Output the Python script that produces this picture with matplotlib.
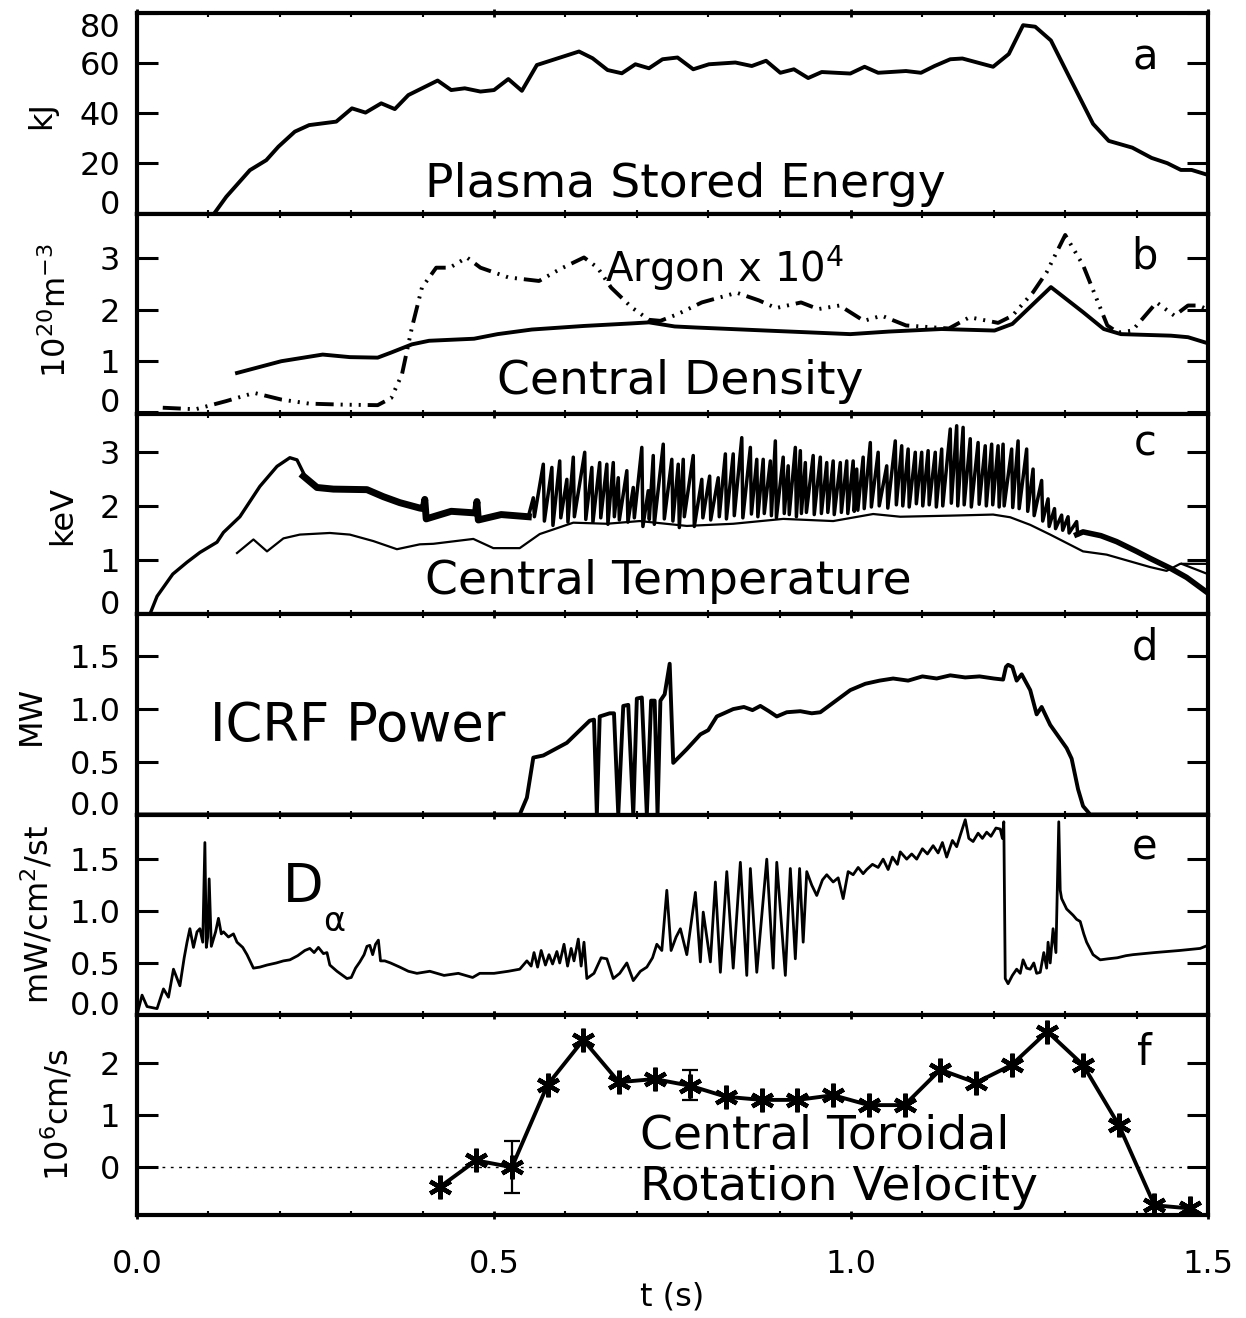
import numpy as np
import matplotlib
matplotlib.use('Agg')
import matplotlib.pyplot as plt
from matplotlib.ticker import MultipleLocator, FormatStrFormatter

plt.rcParams['font.family'] = ['DejaVu Sans']
plt.rcParams['mathtext.default'] = 'regular'
plt.rcParams['lines.scale_dashes'] = False

# (a) plasma stored energy, kJ
t_wp = [0.108, 0.125, 0.158, 0.181, 0.198, 0.221, 0.241, 0.279, 0.301, 0.320,
        0.342, 0.361, 0.380, 0.421, 0.440, 0.459, 0.481, 0.500, 0.520, 0.539,
        0.560, 0.619, 0.638, 0.659, 0.679, 0.698, 0.717, 0.736, 0.757, 0.779,
        0.801, 0.838, 0.861, 0.881, 0.901, 0.920, 0.940, 0.959, 0.999, 1.019,
        1.038, 1.077, 1.098, 1.117, 1.139, 1.156, 1.199, 1.221, 1.241, 1.258,
        1.280, 1.304, 1.339, 1.361, 1.394, 1.421, 1.443, 1.462, 1.477, 1.500]
wp = [0.0, 6.7, 17.3, 21.3, 26.7, 32.7, 35.3, 36.7, 42.0, 40.3,
      44.0, 41.7, 47.3, 53.1, 49.3, 50.0, 48.7, 49.3, 53.7, 49.0,
      59.3, 64.7, 62.0, 57.3, 56.0, 59.6, 58.0, 61.6, 62.3, 57.6,
      59.6, 60.3, 58.9, 61.0, 56.2, 57.6, 54.1, 56.5, 55.9, 58.6,
      56.2, 56.9, 56.2, 58.9, 61.6, 61.9, 58.6, 63.7, 75.2, 74.6,
      69.1, 55.5, 35.8, 29.0, 26.3, 22.2, 20.1, 17.4, 17.4, 15.4]

# (b) central density and argon x 1e4
t_ne = [0.140, 0.202, 0.260, 0.298, 0.337, 0.356, 0.385, 0.409, 0.472, 0.505,
        0.553, 0.626, 0.693, 0.717, 0.753, 0.782, 0.881, 0.999, 1.053, 1.127,
        1.201, 1.226, 1.280, 1.325, 1.354, 1.378, 1.448, 1.472, 1.500]
ne = [0.76, 0.99, 1.12, 1.07, 1.06, 1.16, 1.32, 1.39, 1.43, 1.52,
      1.61, 1.68, 1.73, 1.75, 1.67, 1.65, 1.59, 1.52, 1.57, 1.62,
      1.59, 1.72, 2.44, 1.95, 1.62, 1.52, 1.49, 1.46, 1.34]
t_ar = [0.036, 0.082, 0.125, 0.164, 0.202, 0.241, 0.289, 0.337, 0.356, 0.371,
        0.385, 0.399, 0.419, 0.438, 0.462, 0.481, 0.520, 0.563, 0.592, 0.626,
        0.645, 0.664, 0.693, 0.717, 0.733, 0.757, 0.791, 0.840, 0.871, 0.895,
        0.930, 0.954, 0.984, 1.018, 1.043, 1.077, 1.117, 1.137, 1.166, 1.206,
        1.226, 1.255, 1.274, 1.300, 1.325, 1.359, 1.374, 1.394, 1.428, 1.453,
        1.472, 1.487, 1.500]
ar = [0.08, 0.05, 0.21, 0.37, 0.24, 0.16, 0.14, 0.13, 0.27, 0.73,
      1.65, 2.43, 2.82, 2.82, 3.02, 2.82, 2.63, 2.56, 2.79, 3.02,
      2.82, 2.43, 2.04, 1.80, 1.78, 1.91, 2.14, 2.33, 2.18, 2.03,
      2.14, 2.01, 2.08, 1.78, 1.88, 1.69, 1.65, 1.63, 1.85, 1.74,
      1.88, 2.34, 2.73, 3.46, 2.87, 1.69, 1.55, 1.59, 2.14, 1.88,
      2.08, 2.08, 2.00]

# (c) central temperature, keV
t_te_rise = [0.018, 0.028, 0.050, 0.070, 0.088, 0.112, 0.121, 0.144, 0.172, 0.196,
             0.214, 0.224, 0.233]
te_rise = [0.0, 0.33, 0.74, 0.96, 1.14, 1.33, 1.51, 1.80, 2.36, 2.73,
           2.89, 2.85, 2.61]
t_te_band = [0.233, 0.252, 0.275, 0.322, 0.345, 0.368, 0.396, 0.401, 0.403, 0.405,
             0.440, 0.474, 0.476, 0.478, 0.510, 0.548]
te_band = [2.55, 2.34, 2.31, 2.30, 2.17, 2.06, 1.96, 1.95, 2.12, 1.76,
           1.90, 1.87, 2.08, 1.74, 1.84, 1.80]
saw_t = [0.555, 0.569, 0.581, 0.592, 0.602, 0.611, 0.627, 0.637, 0.648, 0.658,
         0.667, 0.674, 0.686, 0.695, 0.707, 0.716, 0.723, 0.737, 0.749, 0.758,
         0.765, 0.779, 0.791, 0.802, 0.814, 0.824, 0.835, 0.847, 0.859, 0.868,
         0.877, 0.887, 0.894, 0.905, 0.912, 0.922, 0.929, 0.936, 0.947, 0.957,
         0.966, 0.975, 0.985, 0.994, 1.003, 1.008, 1.017, 1.027, 1.038, 1.050,
         1.062, 1.071, 1.080, 1.090, 1.099, 1.108, 1.118, 1.127, 1.139, 1.148,
         1.157, 1.167, 1.178, 1.188, 1.197, 1.206, 1.213, 1.225, 1.234, 1.246,
         1.255, 1.267, 1.276, 1.285, 1.295, 1.304, 1.316]
saw_peak = [2.15, 2.77, 2.71, 2.83, 2.49, 2.90, 2.99, 2.71, 2.80, 2.77,
            2.80, 2.52, 2.65, 2.34, 3.08, 2.28, 2.93, 3.14, 2.86, 2.77,
            2.86, 2.93, 2.49, 2.55, 2.52, 2.96, 2.96, 3.26, 3.08, 2.86,
            2.86, 2.83, 3.20, 2.90, 2.74, 3.08, 3.02, 2.80, 2.93, 2.90,
            2.80, 2.83, 2.80, 2.83, 2.83, 2.68, 2.90, 3.17, 2.99, 2.74,
            3.20, 3.11, 3.05, 2.99, 2.99, 3.02, 2.99, 3.05, 3.42, 3.48,
            3.45, 3.24, 3.17, 3.11, 3.14, 3.11, 3.14, 3.05, 3.20, 3.05,
            2.68, 2.47, 2.13, 1.95, 1.83, 1.80, 1.71]
saw_trough = [1.80, 1.72, 1.64, 1.78, 1.70, 1.80, 1.75, 1.70, 1.78, 1.66,
              1.80, 1.74, 1.70, 1.78, 1.62, 1.75, 1.66, 1.76, 1.72, 1.60,
              1.80, 1.62, 1.78, 1.74, 1.80, 1.76, 1.82, 1.78, 1.85, 1.80,
              1.86, 1.82, 1.78, 1.86, 1.84, 1.80, 1.86, 1.88, 1.84, 1.86,
              1.88, 1.84, 1.88, 1.86, 1.90, 1.92, 1.95, 1.98, 2.00, 1.96,
              2.02, 2.00, 1.98, 2.04, 2.00, 2.02, 1.98, 2.00, 2.05, 2.00,
              2.02, 1.98, 2.03, 2.00, 2.02, 1.98, 2.00, 1.97, 1.95, 1.90,
              1.82, 1.72, 1.62, 1.58, 1.55, 1.50, 1.47]
t_te_tail = [1.316, 1.325, 1.350, 1.372, 1.400, 1.419, 1.447, 1.470, 1.500]
te_tail = [1.47, 1.52, 1.45, 1.34, 1.16, 1.03, 0.85, 0.68, 0.39]
t_te2 = [0.140, 0.163, 0.182, 0.205, 0.228, 0.270, 0.298, 0.331, 0.364, 0.396,
         0.415, 0.471, 0.499, 0.536, 0.564, 0.611, 0.658, 0.704, 0.770, 0.835,
         0.905, 0.975, 1.031, 1.069, 1.139, 1.199, 1.223, 1.251, 1.279, 1.325,
         1.358, 1.419, 1.442, 1.461, 1.500]
te2 = [1.13, 1.38, 1.16, 1.40, 1.47, 1.50, 1.47, 1.35, 1.20, 1.29,
       1.30, 1.39, 1.22, 1.22, 1.48, 1.69, 1.67, 1.72, 1.63, 1.67,
       1.76, 1.72, 1.85, 1.80, 1.82, 1.84, 1.79, 1.65, 1.47, 1.16,
       1.10, 0.87, 0.80, 0.93, 0.93]
t_te3 = [1.463, 1.500]
te3 = [0.93, 0.74]

# (d) ICRF power, MW
t_rf = [0.000, 0.536, 0.546, 0.555, 0.569, 0.602, 0.634, 0.640, 0.644, 0.648,
        0.662, 0.668, 0.674, 0.681, 0.688, 0.695, 0.700, 0.707, 0.714, 0.720,
        0.725, 0.729, 0.733, 0.739, 0.746, 0.751, 0.770, 0.789, 0.800, 0.812,
        0.822, 0.835, 0.850, 0.862, 0.873, 0.885, 0.896, 0.910, 0.929, 0.945,
        0.957, 0.975, 0.999, 1.020, 1.040, 1.059, 1.080, 1.100, 1.120, 1.139,
        1.160, 1.180, 1.200, 1.213, 1.217, 1.220, 1.226, 1.232, 1.239, 1.251,
        1.260, 1.267, 1.279, 1.302, 1.309, 1.318, 1.325, 1.335, 1.500]
rf = [0.0, 0.0, 0.16, 0.54, 0.56, 0.68, 0.89, 0.90, 0.0, 0.93,
      0.96, 0.96, 0.0, 1.03, 1.04, 0.0, 1.10, 1.11, 0.0, 1.08,
      1.08, 0.0, 1.08, 1.14, 1.43, 0.49, 0.62, 0.76, 0.80, 0.93,
      0.96, 1.00, 1.02, 0.99, 1.03, 0.98, 0.93, 0.97, 0.98, 0.96,
      0.97, 1.06, 1.18, 1.24, 1.27, 1.29, 1.27, 1.31, 1.29, 1.32,
      1.30, 1.31, 1.29, 1.28, 1.40, 1.42, 1.40, 1.27, 1.33, 1.18,
      0.95, 1.02, 0.85, 0.63, 0.53, 0.24, 0.08, 0.0, 0.0]

# (e) D-alpha, mW/cm2/st
t_da = [0.000, 0.007, 0.014, 0.028, 0.037, 0.044, 0.051, 0.060, 0.066, 0.070,
        0.074, 0.079, 0.084, 0.088, 0.092, 0.095, 0.097, 0.099, 0.101, 0.104,
        0.110, 0.114, 0.118, 0.121, 0.128, 0.135, 0.140, 0.148, 0.154, 0.163,
        0.172, 0.182, 0.195, 0.205, 0.214, 0.225, 0.235, 0.242, 0.248, 0.254,
        0.261, 0.266, 0.270, 0.280, 0.288, 0.294, 0.300, 0.306, 0.312, 0.318,
        0.322, 0.326, 0.330, 0.334, 0.338, 0.341, 0.347, 0.355, 0.368, 0.380,
        0.392, 0.410, 0.430, 0.450, 0.470, 0.480, 0.500, 0.520, 0.536, 0.546,
        0.552, 0.556, 0.561, 0.566, 0.572, 0.577, 0.582, 0.588, 0.592, 0.598,
        0.603, 0.608, 0.612, 0.618, 0.622, 0.626, 0.630, 0.640, 0.650, 0.658,
        0.667, 0.676, 0.686, 0.695, 0.705, 0.714, 0.722, 0.728, 0.735, 0.742,
        0.748, 0.755, 0.761, 0.770, 0.782, 0.789, 0.793, 0.803, 0.810, 0.817,
        0.826, 0.835, 0.845, 0.854, 0.859, 0.868, 0.882, 0.891, 0.896, 0.908,
        0.915, 0.922, 0.928, 0.933, 0.938, 0.945, 0.952, 0.960, 0.966, 0.975,
        0.982, 0.989, 0.996, 1.003, 1.010, 1.017, 1.022, 1.030, 1.038, 1.045,
        1.052, 1.058, 1.065, 1.069, 1.078, 1.085, 1.092, 1.100, 1.107, 1.115,
        1.122, 1.128, 1.134, 1.142, 1.148, 1.153, 1.160, 1.165, 1.171, 1.178,
        1.184, 1.190, 1.196, 1.203, 1.209, 1.212, 1.214, 1.216, 1.220, 1.226,
        1.232, 1.237, 1.241, 1.246, 1.251, 1.256, 1.260, 1.265, 1.270, 1.274,
        1.276, 1.279, 1.283, 1.287, 1.291, 1.293, 1.295, 1.302, 1.311, 1.316,
        1.321, 1.326, 1.330, 1.339, 1.349, 1.360, 1.373, 1.385, 1.395, 1.410,
        1.425, 1.443, 1.460, 1.475, 1.489, 1.500]
da = [0.00, 0.19, 0.08, 0.06, 0.25, 0.17, 0.44, 0.28, 0.55, 0.70,
      0.83, 0.65, 0.80, 0.83, 0.70, 1.66, 0.65, 0.75, 1.31, 0.66,
      0.80, 0.93, 0.78, 0.80, 0.75, 0.78, 0.70, 0.65, 0.58, 0.45,
      0.46, 0.48, 0.50, 0.52, 0.53, 0.57, 0.62, 0.64, 0.60, 0.65,
      0.59, 0.60, 0.48, 0.42, 0.38, 0.35, 0.36, 0.45, 0.51, 0.58,
      0.66, 0.67, 0.58, 0.68, 0.72, 0.52, 0.52, 0.50, 0.46, 0.42,
      0.40, 0.42, 0.38, 0.40, 0.36, 0.40, 0.40, 0.42, 0.44, 0.52,
      0.47, 0.60, 0.46, 0.62, 0.48, 0.58, 0.49, 0.61, 0.50, 0.68,
      0.47, 0.64, 0.52, 0.73, 0.47, 0.70, 0.35, 0.40, 0.55, 0.54,
      0.35, 0.40, 0.50, 0.33, 0.42, 0.46, 0.55, 0.68, 0.62, 1.20,
      0.62, 0.75, 0.83, 0.58, 1.18, 0.51, 0.99, 0.51, 1.28, 0.41,
      1.38, 0.45, 1.47, 0.38, 1.41, 0.41, 1.50, 0.45, 1.47, 0.38,
      1.41, 0.54, 1.41, 0.70, 1.38, 1.25, 1.15, 1.30, 1.35, 1.28,
      1.32, 1.12, 1.38, 1.35, 1.42, 1.36, 1.40, 1.45, 1.42, 1.50,
      1.40, 1.52, 1.45, 1.57, 1.50, 1.55, 1.50, 1.60, 1.55, 1.63,
      1.56, 1.66, 1.52, 1.68, 1.62, 1.73, 1.88, 1.70, 1.67, 1.75,
      1.70, 1.76, 1.72, 1.80, 1.79, 1.70, 1.86, 0.35, 0.30, 0.38,
      0.44, 0.40, 0.53, 0.45, 0.44, 0.50, 0.40, 0.41, 0.60, 0.45,
      0.70, 0.50, 0.83, 0.60, 1.86, 1.20, 1.12, 1.02, 0.96, 0.92,
      0.90, 0.78, 0.70, 0.58, 0.53, 0.54, 0.55, 0.57, 0.58, 0.59,
      0.60, 0.61, 0.62, 0.63, 0.64, 0.67]

# (f) central toroidal rotation velocity, 1e6 cm/s
t_v = [0.425, 0.475, 0.525, 0.575, 0.625, 0.675, 0.725, 0.775, 0.825, 0.875,
       0.925, 0.975, 1.025, 1.075, 1.125, 1.175, 1.225, 1.275, 1.325, 1.375,
       1.425, 1.475]
v = [-0.37, 0.13, 0.0, 1.58, 2.44, 1.63, 1.69, 1.56, 1.35, 1.29,
     1.29, 1.38, 1.19, 1.19, 1.87, 1.62, 1.96, 2.60, 1.96, 0.81,
     -0.73, -0.79]
t_verr = [0.525, 0.775]
v_verr = [0.0, 1.58]
verr = [0.5, 0.29]

# build the sawtooth trace: linear rise to each peak, then crash
saw_x, saw_y = [t_te_band[-1]], [te_band[-1]]
for tc, pk, tr in zip(saw_t, saw_peak, saw_trough):
    saw_x += [tc, tc + 0.0015]
    saw_y += [pk, tr]

fig = plt.figure(figsize=(12.46, 13.18), dpi=100)
axs = fig.subplots(6, 1, sharex=True, gridspec_kw=dict(hspace=0))
fig.subplots_adjust(left=0.11, right=0.9695, top=0.990, bottom=0.078)

LW = 2.8
FS_TICK = 23
FS_TXT = 34


def style(ax, ylim, yticks, ylabels, first_bottom=True, last_top=False):
    ax.set_xlim(0, 1.5)
    ax.set_ylim(*ylim)
    ax.set_yticks(yticks)
    ax.set_yticklabels(ylabels)
    ax.xaxis.set_major_locator(MultipleLocator(0.5))
    ax.xaxis.set_minor_locator(MultipleLocator(0.1))
    ax.xaxis.set_major_formatter(FormatStrFormatter('%.1f'))
    ax.tick_params(axis='y', which='major', direction='in', length=15, width=2.2,
                   left=True, right=True, labelsize=FS_TICK, pad=12)
    ax.tick_params(axis='x', which='major', direction='inout', length=6, width=2,
                   top=True, bottom=True, labelsize=FS_TICK, pad=21)
    ax.tick_params(axis='x', which='minor', direction='in', length=3, width=1.5,
                   top=True, bottom=True)
    for s in ax.spines.values():
        s.set_linewidth(3)
    ticks = ax.yaxis.get_major_ticks()
    if first_bottom:
        ticks[0].label1.set_va('baseline')
    if last_top:
        ticks[-1].label1.set_va('top')


def ylab(ax, x_px, yfrac, txt):
    ax.text((x_px - 137) / 1071.0, yfrac, txt, transform=ax.transAxes, rotation=90,
            ha='center', va='center', fontsize=FS_TICK)


def letter(ax, yfrac, txt):
    ax.text(0.941, yfrac, txt, transform=ax.transAxes, ha='center', va='baseline',
            fontsize=30)


# a
ax = axs[0]
ax.plot(t_wp, wp, color='k', lw=LW)
style(ax, (0, 80), [0, 20, 40, 60, 80], ['0', '20', '40', '60', '80'], last_top=True)
ylab(ax, 42, 0.49, 'kJ')
ax.text(0.269, 0.08, 'Plasma Stored Energy', transform=ax.transAxes, fontsize=FS_TXT,
        va='baseline')
letter(ax, 0.72, 'a')

# b
ax = axs[1]
ax.plot(t_ne, ne, color='k', lw=LW)
ax.plot(t_ar, ar, color='k', lw=LW, dashes=(13, 5, 1.5, 5, 1.5, 5, 1.5, 5))
style(ax, (-0.04, 3.88), [0, 1, 2, 3], ['0', '1', '2', '3'])
ylab(ax, 57, 0.515, '10$^{20}$m$^{-3}$')
ax.text(0.336, 0.10, 'Central Density', transform=ax.transAxes, fontsize=FS_TXT,
        va='baseline')
ax.text(0.437, 0.66, 'Argon x 10$^4$', transform=ax.transAxes, fontsize=29,
        va='baseline')
letter(ax, 0.725, 'b')

# c
ax = axs[2]
ax.plot(t_te_rise, te_rise, color='k', lw=2.4)
ax.plot(t_te_band, te_band, color='k', lw=5.0)
ax.plot(saw_x, saw_y, color='k', lw=2.5)
ax.plot(t_te_tail, te_tail, color='k', lw=4.0)
ax.plot(t_te2, te2, color='k', lw=1.6)
ax.plot(t_te3, te3, color='k', lw=1.6)
style(ax, (0, 3.7), [0, 1, 2, 3], ['0', '1', '2', '3'])
ylab(ax, 63, 0.495, 'keV')
ax.text(0.269, 0.10, 'Central Temperature', transform=ax.transAxes, fontsize=FS_TXT,
        va='baseline')
letter(ax, 0.79, 'c')

# d
ax = axs[3]
ax.plot(t_rf, rf, color='k', lw=LW)
style(ax, (0, 1.9), [0, 0.5, 1.0, 1.5], ['0.0', '0.5', '1.0', '1.5'])
ylab(ax, 31, 0.495, 'MW')
ax.text(0.068, 0.365, 'ICRF Power', transform=ax.transAxes, fontsize=38,
        va='baseline')
letter(ax, 0.775, 'd')

# e
ax = axs[4]
ax.plot(t_da, da, color='k', lw=2.0)
style(ax, (0, 1.93), [0, 0.5, 1.0, 1.5], ['0.0', '0.5', '1.0', '1.5'])
ylab(ax, 38, 0.5, 'mW/cm$^2$/st')
ax.text(0.136, 0.565, 'D', transform=ax.transAxes, fontsize=38, va='baseline')
ax.text(0.184, 0.42, r'$\alpha$', transform=ax.transAxes, fontsize=24,
        va='baseline', ha='center')
letter(ax, 0.775, 'e')

# f
ax = axs[5]
ax.axhline(0, color='k', lw=1.0, dashes=(2, 4))
ax.plot(t_v, v, color='k', lw=LW, marker=(6, 2, 0), ms=17, mew=3.2)
ax.errorbar(t_verr, v_verr, yerr=verr, fmt='none', ecolor='k', elinewidth=1.6,
            capsize=6, capthick=1.6)
style(ax, (-0.92, 2.92), [0, 1, 2], ['0', '1', '2'], first_bottom=False)
ylab(ax, 58, 0.5, '10$^6$cm/s')
ax.text(0.47, 0.335, 'Central Toroidal', transform=ax.transAxes, fontsize=FS_TXT,
        va='baseline')
ax.text(0.47, 0.075, 'Rotation Velocity', transform=ax.transAxes, fontsize=FS_TXT,
        va='baseline')
letter(ax, 0.75, 'f')

fig.text(672 / 1246.0, 1 - 1297 / 1318.0, 't (s)', ha='center', va='center',
         fontsize=FS_TICK)

fig.savefig('out.png', dpi=100)
